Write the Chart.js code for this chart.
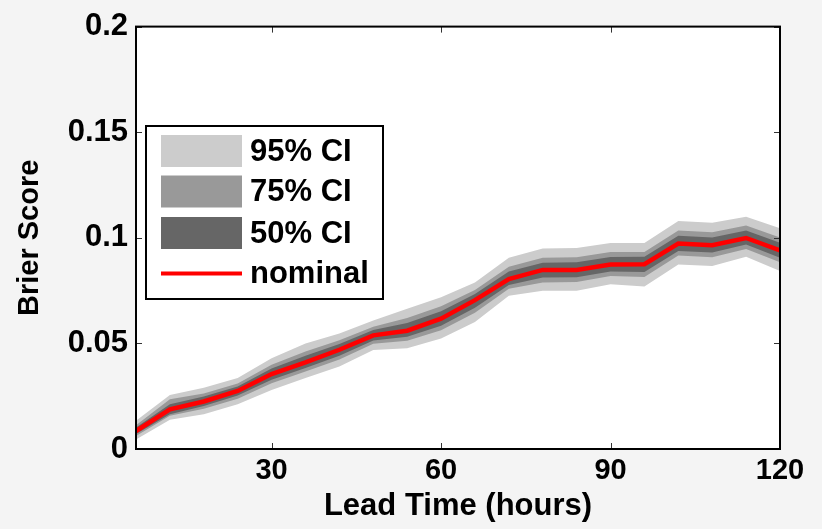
<!DOCTYPE html>
<html><head><meta charset="utf-8">
<script src="https://cdn.jsdelivr.net/npm/chart.js@4.4.0/dist/chart.umd.min.js"></script>
<style>html,body{margin:0;padding:0;background:#f4f4f4;}#wrap{width:822px;height:529px;position:relative;}</style>
</head><body><div id="wrap"><canvas id="c" width="822" height="529"></canvas></div>
<script>
const leadTimes = [6,12,18,24,30,36,42,48,54,60,66,72,78,84,90,96,102,108,114,120];
const nominal = [0.0085,0.0188,0.0225,0.0275,0.0355,0.0410,0.0470,0.0538,0.0560,0.0617,0.0705,0.0805,0.0848,0.0848,0.0874,0.0875,0.0973,0.0965,0.0999,0.0940];
const ci95Hi = [0.0134,0.0256,0.0290,0.0336,0.0430,0.0500,0.0547,0.0609,0.0664,0.0718,0.0788,0.0905,0.0949,0.0952,0.0975,0.0975,0.1080,0.1071,0.1100,0.1045];
const ci95Lo = [0.0045,0.0139,0.0165,0.0212,0.0279,0.0336,0.0391,0.0469,0.0477,0.0523,0.0601,0.0726,0.0749,0.0749,0.0780,0.0770,0.0874,0.0866,0.0910,0.0843];
const ci75Hi = [0.0113,0.0235,0.0263,0.0310,0.0399,0.0462,0.0515,0.0579,0.0620,0.0676,0.0753,0.0863,0.0905,0.0908,0.0933,0.0933,0.1035,0.1026,0.1058,0.1001];
const ci75Lo = [0.0061,0.0157,0.0190,0.0238,0.0311,0.0367,0.0424,0.0498,0.0512,0.0562,0.0645,0.0759,0.0788,0.0791,0.0819,0.0814,0.0916,0.0908,0.0947,0.0884];
const ci50Hi = [0.0102,0.0212,0.0248,0.0296,0.0381,0.0442,0.0497,0.0563,0.0596,0.0652,0.0734,0.0840,0.0882,0.0884,0.0909,0.0910,0.1010,0.1002,0.1034,0.0977];
const ci50Lo = [0.0071,0.0165,0.0204,0.0253,0.0328,0.0384,0.0442,0.0514,0.0531,0.0584,0.0669,0.0777,0.0812,0.0813,0.0841,0.0838,0.0938,0.0930,0.0968,0.0906];
const xTicks = [30,60,90,120];
const yTicks = [0,0.05,0.1,0.15,0.2];
const legendLabels = ['95% CI','75% CI','50% CI','nominal'];

const FONT = "'Liberation Sans', Arial, sans-serif";
const pts = arr => arr.map((v,i)=>({x:leadTimes[i], y:v}));
const hidden = {borderColor:'rgba(0,0,0,0)', borderWidth:0, pointRadius:0, fill:false, tension:0};
const band = (bg, target, order) => ({borderColor:'rgba(0,0,0,0)', borderWidth:0, pointRadius:0, backgroundColor:bg, fill:target, tension:0, order:order});

const frame = {
  id:'frame',
  beforeDraw(chart){
    const {ctx, chartArea:a} = chart;
    ctx.save(); ctx.fillStyle='#ffffff'; ctx.fillRect(a.left,a.top,a.right-a.left,a.bottom-a.top); ctx.restore();
  },
  afterDatasetsDraw(chart){
    const {ctx, chartArea:a, scales} = chart;
    ctx.save();
    ctx.strokeStyle='#333'; ctx.lineWidth=1;
    const L=6;
    xTicks.forEach(t=>{ const px=Math.round(scales.x.getPixelForValue(t))+0.5;
      ctx.beginPath(); ctx.moveTo(px,a.bottom); ctx.lineTo(px,a.bottom-L); ctx.moveTo(px,a.top); ctx.lineTo(px,a.top+L); ctx.stroke(); });
    yTicks.forEach(t=>{ const py=Math.round(scales.y.getPixelForValue(t))+0.5;
      ctx.beginPath(); ctx.moveTo(a.left,py); ctx.lineTo(a.left+L,py); ctx.moveTo(a.right,py); ctx.lineTo(a.right-L,py); ctx.stroke(); });
    ctx.strokeStyle='#000'; ctx.lineWidth=2;
    ctx.strokeRect(a.left,a.top,a.right-a.left,a.bottom-a.top);
    // legend
    const bx=146, by=126, bw=237, bh=173;
    ctx.fillStyle='#fff'; ctx.fillRect(bx,by,bw,bh);
    ctx.strokeStyle='#000'; ctx.lineWidth=2; ctx.strokeRect(bx,by,bw,bh);
    const colors=['#cccccc','#999999','#666666'];
    const rows=[151,191.5,233,273.5];
    for(let i=0;i<3;i++){ ctx.fillStyle=colors[i]; ctx.fillRect(161,rows[i]-16,81,32); }
    ctx.strokeStyle='#ff0000'; ctx.lineWidth=4; ctx.beginPath(); ctx.moveTo(161,rows[3]); ctx.lineTo(242,rows[3]); ctx.stroke();
    ctx.fillStyle='#000'; ctx.font='bold 31px '+FONT; ctx.textBaseline='middle'; ctx.textAlign='left';
    legendLabels.forEach((t,i)=>ctx.fillText(t,250,rows[i]+1));
    ctx.restore();
  }
};

new Chart(document.getElementById('c'), {
  type:'line',
  data:{datasets:[
    Object.assign({label:'95lo', data:pts(ci95Lo), order:30}, hidden),
    Object.assign({label:'95% CI', data:pts(ci95Hi)}, band('#cccccc',0,30)),
    Object.assign({label:'75lo', data:pts(ci75Lo), order:20}, hidden),
    Object.assign({label:'75% CI', data:pts(ci75Hi)}, band('#999999',2,20)),
    Object.assign({label:'50lo', data:pts(ci50Lo), order:10}, hidden),
    Object.assign({label:'50% CI', data:pts(ci50Hi)}, band('#666666',4,10)),
    {label:'nominal', data:pts(nominal), borderColor:'#ff0000', borderWidth:4.5, pointRadius:0, fill:false, tension:0, order:0}
  ]},
  options:{
    responsive:false, animation:false,
    layout:{padding:{top:19,right:42,left:0,bottom:0}},
    plugins:{legend:{display:false}, tooltip:{enabled:false}},
    scales:{
      x:{type:'linear', min:6, max:120,
        afterBuildTicks: s => { s.ticks = xTicks.map(v=>({value:v})); },
        afterFit: s => { s.height = 80; },
        grid:{display:false, tickLength:0}, border:{display:false},
        ticks:{color:'#000', font:{family:FONT, size:29, weight:'bold'}, padding:5, maxRotation:0, autoSkip:false},
        title:{display:true, text:'Lead Time (hours)', color:'#000', font:{family:FONT, size:31, weight:'bold'}, padding:{top:0,bottom:4}}
      },
      y:{min:0, max:0.2,
        afterBuildTicks: s => { s.ticks = yTicks.map(v=>({value:v})); },
        afterFit: s => { s.width = 136; },
        grid:{display:false, tickLength:0}, border:{display:false},
        ticks:{color:'#000', font:{family:FONT, size:31, weight:'bold'}, padding:8, callback: v => String(+v.toFixed(2))},
        title:{display:true, text:'Brier Score', color:'#000', font:{family:FONT, size:29, weight:'bold'}, padding:{top:13,bottom:0}}
      }
    }
  },
  plugins:[frame]
});
</script></body></html>
